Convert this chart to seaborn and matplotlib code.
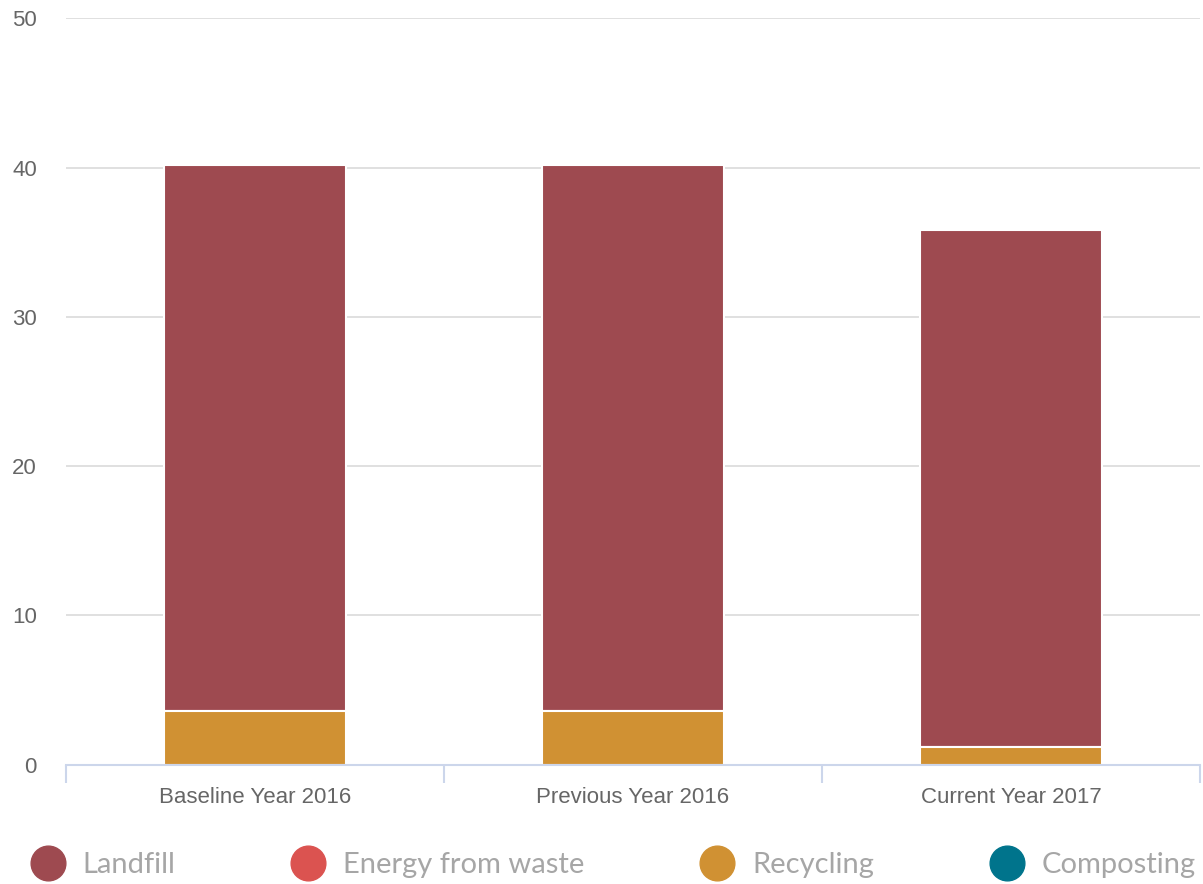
import matplotlib
matplotlib.use("Agg")
import matplotlib.pyplot as plt
from matplotlib.lines import Line2D
import seaborn as sns
import pandas as pd

categories = ["Baseline Year 2016", "Previous Year 2016", "Current Year 2017"]
series_names = ["Landfill", "Energy from waste", "Recycling", "Composting"]
landfill = [36.6, 36.6, 34.6]
energy = [0.0, 0.0, 0.0]
recycling = [3.6, 3.6, 1.2]
composting = [0.0, 0.0, 0.0]
colors = ["#9E4A50", "#DB5350", "#D09133", "#00748C"]
y_ticks = [0, 10, 20, 30, 40, 50]

sns.set_theme(style="white")
plt.rcParams["font.family"] = ["Liberation Sans", "DejaVu Sans"]

fig = plt.figure(figsize=(12.03, 8.84), dpi=100)
ax = fig.add_axes([66 / 1203, 1 - 764.7 / 884, (1200 - 66) / 1203, (764.7 - 18.3) / 884])

values = [landfill, energy, recycling, composting]
# stacked: landfill on top, composting at bottom
for i, (name, col) in enumerate(zip(series_names, colors)):
    cum = [sum(v[k] for v in values[i:]) for k in range(len(categories))]
    df = pd.DataFrame({"category": categories, "value": cum})
    if max(cum) <= 0:
        continue
    sns.barplot(data=df, x="category", y="value", color=col, saturation=1,
                width=0.48, edgecolor="white", linewidth=1.5, ax=ax)

ax.set_xlim(-0.5, len(categories) - 0.5)
ax.set_ylim(0, 50)
ax.set_yticks(y_ticks)
ax.set_yticklabels([str(t) for t in y_ticks])
ax.set_xlabel("")
ax.set_ylabel("")
ax.yaxis.grid(True, color="#dddddd", linewidth=1.3)
ax.xaxis.grid(False)
ax.set_axisbelow(True)
for s in ["left", "right", "top"]:
    ax.spines[s].set_visible(False)
ax.spines["bottom"].set_color("#ccd6eb")
ax.spines["bottom"].set_linewidth(1.5)
ax.spines["bottom"].set_zorder(5)

ax.tick_params(axis="y", length=0, pad=21, labelsize=16, labelcolor="#666666")
ax.tick_params(axis="x", which="major", length=0, pad=16, labelsize=16, labelcolor="#666666")
ax.set_xticks([-0.5, 0.5, 1.5, 2.5], minor=True)
ax.tick_params(axis="x", which="minor", bottom=True, length=13, width=1.5,
               color="#ccd6eb", direction="out")

handles = [Line2D([0], [0], marker="o", linestyle="none", markersize=25,
                  markerfacecolor=c, markeredgecolor=c) for c in colors]
leg = fig.legend(handles, series_names, loc="center left",
                 bbox_to_anchor=(30 / 1203, 1 - 865 / 884), ncol=4, frameon=False,
                 borderpad=0, borderaxespad=0, handlelength=1.2, handletextpad=0.6,
                 columnspacing=3.95,
                 prop={"family": ["Lato", "DejaVu Sans"], "weight": "normal", "size": 21})
for t in leg.get_texts():
    t.set_color("#a6a6a6")

fig.savefig("out.png", dpi=100)
